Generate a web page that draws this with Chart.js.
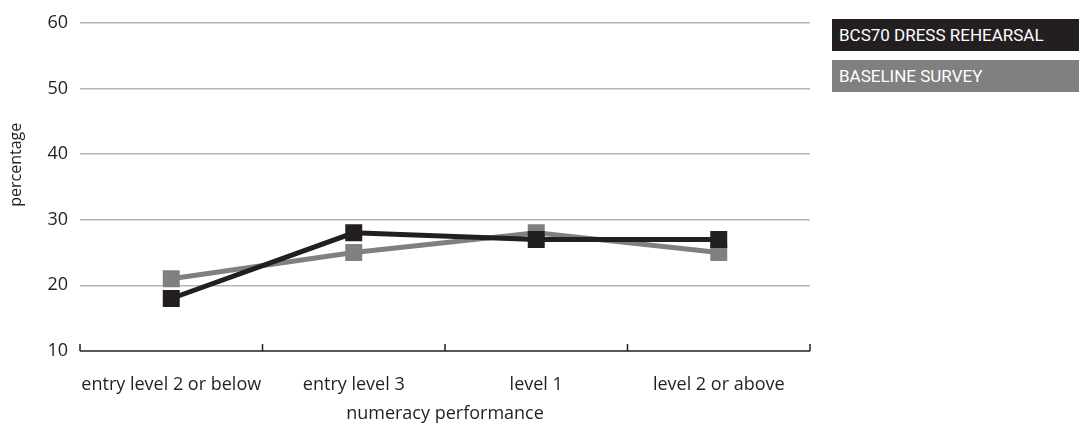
<!DOCTYPE html>
<html>
<head>
<meta charset="utf-8">
<script src="https://cdn.jsdelivr.net/npm/chart.js@4"></script>
<style>
    body { margin: 0; background: #fff; }
    .wrap { position: relative; width: 1079px; height: 423px; }
    .legend-item {
        position: absolute;
        left: 832px;
        width: 247px;
        height: 32px;
        line-height: 32px;
        box-sizing: border-box;
        padding-left: 7px;
        color: #fff;
        font-family: Roboto, sans-serif;
        font-size: 17px;
    }
</style>
</head>
<body>
<div class="wrap">
    <canvas id="numeracyChart" width="1079" height="423"></canvas>
    <div class="legend-item" id="legendDress" style="top:19px;background:#231f20;"></div>
    <div class="legend-item" id="legendBase" style="top:60px;background:#808080;"></div>
</div>
<script>
// Data
const categories = ['entry level 2 or below', 'entry level 3', 'level 1', 'level 2 or above'];
const dressRehearsal = [18, 28, 27, 27];
const baselineSurvey = [21, 25, 28, 25];
const yTicks = [10, 20, 30, 40, 50, 60];

const seriesNames = ['BCS70 DRESS REHEARSAL', 'BASELINE SURVEY'];
const yTitle = 'percentage';
const xTitle = 'numeracy performance';

const colors = {
    dark: '#231f20',
    grey: '#808080',
    grid: '#b5b5b5',
    text: '#231f20'
};

const labelFont = { family: 'Open Sans', size: 18 };

document.getElementById('legendDress').textContent = seriesNames[0];
document.getElementById('legendBase').textContent = seriesNames[1];

// x axis line with small upward ticks between categories
const axisTicksPlugin = {
    id: 'axisTicks',
    afterDraw(chart) {
        const x = chart.scales.x;
        const ctx = chart.ctx;
        const yPos = chart.chartArea.bottom;
        ctx.save();
        ctx.strokeStyle = colors.dark;
        ctx.lineWidth = 1.5;
        ctx.beginPath();
        ctx.moveTo(chart.chartArea.left, yPos);
        ctx.lineTo(chart.chartArea.right, yPos);
        const n = categories.length;
        for (let i = 0; i <= n; i++) {
            let px;
            if (i === 0) px = chart.chartArea.left;
            else if (i === n) px = chart.chartArea.right;
            else px = (x.getPixelForValue(i - 1) + x.getPixelForValue(i)) / 2;
            ctx.moveTo(px, yPos);
            ctx.lineTo(px, yPos - 7);
        }
        ctx.stroke();

        // y axis title sits a bit above the plot centre in the original
        ctx.translate(16, chart.chartArea.top + 142);
        ctx.rotate(-Math.PI / 2);
        ctx.fillStyle = colors.text;
        ctx.font = '16px "Open Sans"';
        ctx.textAlign = 'center';
        ctx.textBaseline = 'middle';
        ctx.fillText(yTitle, 0, 0);
        ctx.restore();
    }
};

new Chart(document.getElementById('numeracyChart'), {
    type: 'line',
    data: {
        labels: categories,
        datasets: [{
            label: seriesNames[0],
            data: dressRehearsal,
            borderColor: colors.dark,
            backgroundColor: colors.dark,
            borderWidth: 5,
            pointStyle: 'rect',
            pointRadius: 12,
            pointBorderWidth: 0,
            tension: 0
        }, {
            label: seriesNames[1],
            data: baselineSurvey,
            borderColor: colors.grey,
            backgroundColor: colors.grey,
            borderWidth: 5,
            pointStyle: 'rect',
            pointRadius: 12,
            pointBorderWidth: 0,
            tension: 0
        }]
    },
    options: {
        responsive: false,
        animation: false,
        layout: {
            padding: { top: 20, right: 269, left: 0, bottom: 0 }
        },
        plugins: {
            legend: { display: false },
            tooltip: { enabled: false }
        },
        scales: {
            x: {
                offset: true,
                grid: { display: false, drawTicks: false },
                border: { display: false },
                ticks: {
                    color: colors.text,
                    font: labelFont,
                    padding: 23,
                    maxRotation: 0,
                    autoSkip: false
                },
                title: {
                    display: true,
                    text: xTitle,
                    color: colors.text,
                    font: { family: 'Open Sans', size: 18, lineHeight: 1 },
                    padding: { top: 0, bottom: 0 }
                },
                afterFit(scale) { scale.height = 72; }
            },
            y: {
                min: 10,
                max: 60,
                afterBuildTicks(scale) {
                    scale.ticks = yTicks.map(v => ({ value: v }));
                },
                grid: {
                    color: (c) => c.tick.value === 10 ? 'rgba(0,0,0,0)' : colors.grid,
                    lineWidth: 1.5,
                    drawTicks: false
                },
                border: { display: false },
                ticks: {
                    color: colors.text,
                    font: labelFont,
                    padding: 12
                },
                afterFit(scale) { scale.width = 80; }
            }
        }
    },
    plugins: [axisTicksPlugin]
});
</script>
</body>
</html>
